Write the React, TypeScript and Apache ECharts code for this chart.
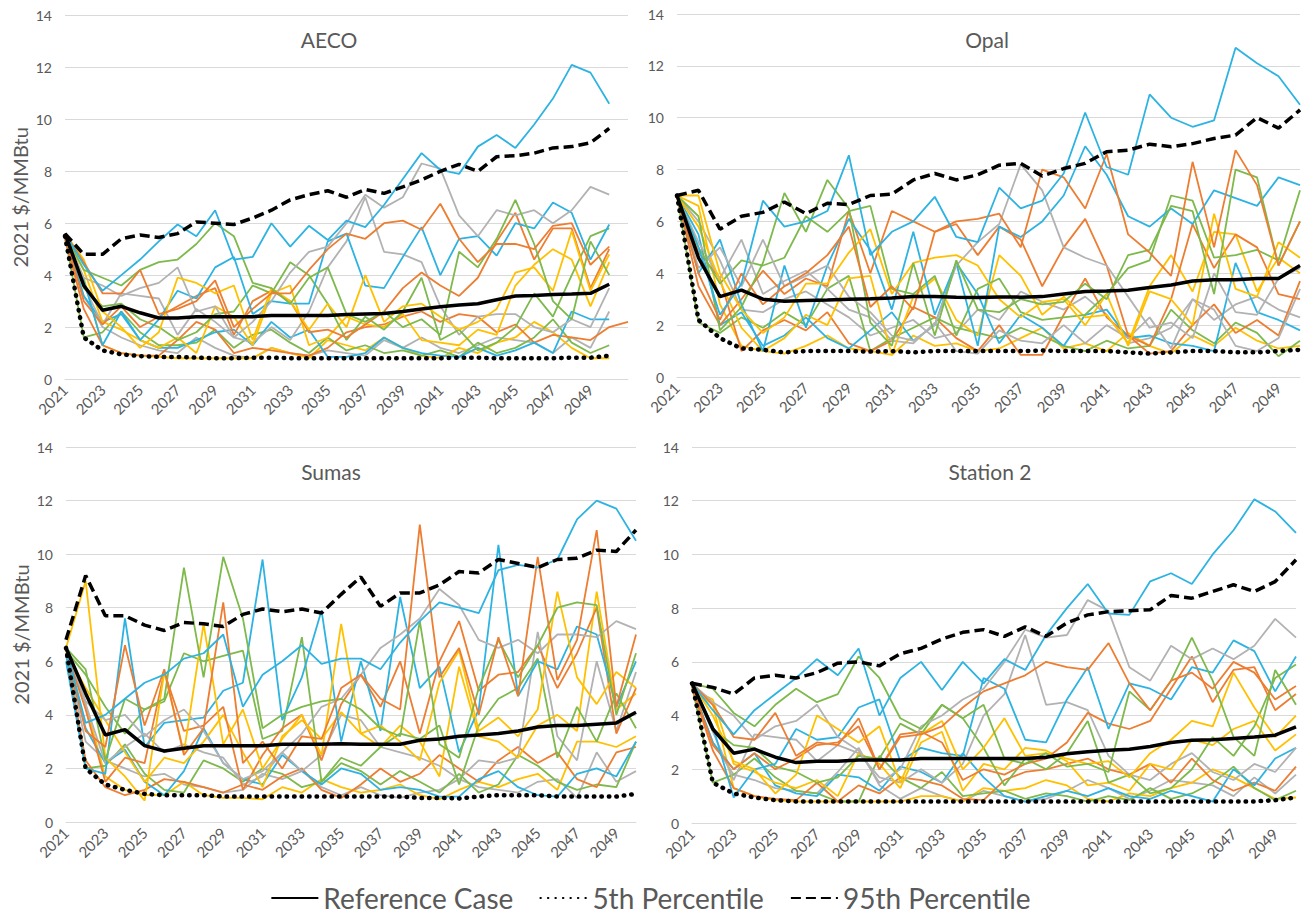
import React, { useEffect, useRef } from "react";
import * as echarts from "echarts";

// ---------- categories / tick labels ----------
const years = [
  "2021", "2022", "2023", "2024", "2025", "2026", "2027", "2028", "2029", "2030",
  "2031", "2032", "2033", "2034", "2035", "2036", "2037", "2038", "2039", "2040",
  "2041", "2042", "2043", "2044", "2045", "2046", "2047", "2048", "2049", "2050", "2051",
];
const panelTitles = ["AECO", "Opal", "Sumas", "Station 2"];
const legendNames = ["Reference Case", "5th Percentile", "95th Percentile"];

// ---------- AECO ----------
const aecoRef = [5.6,3.6,2.65,2.8,2.55,2.35,2.35,2.4,2.4,2.4,2.4,2.45,2.45,2.45,2.45,2.48,2.5,2.52,2.6,2.7,2.78,2.85,2.9,3.05,3.2,3.22,3.25,3.27,3.3,3.65];
const aecoP5 = [5.5,1.6,1.1,0.95,0.88,0.85,0.85,0.82,0.8,0.8,0.82,0.82,0.8,0.8,0.8,0.8,0.8,0.8,0.8,0.8,0.8,0.82,0.82,0.8,0.8,0.8,0.8,0.82,0.82,0.9];
const aecoP95 = [5.6,4.8,4.8,5.4,5.55,5.45,5.6,6.05,6.0,5.95,6.2,6.5,6.9,7.1,7.25,7.0,7.3,7.15,7.4,7.67,8.0,8.27,8.0,8.56,8.6,8.7,8.9,8.95,9.1,9.65];
const aecoCyan1 = [5.6,4.4,3.4,4.0,4.6,5.3,5.95,5.5,6.5,4.6,4.7,6.0,5.1,5.9,5.35,6.1,5.85,6.7,7.7,8.7,8.05,7.9,8.95,9.4,8.9,9.8,10.8,12.1,11.8,10.6];
const aecoCyan2 = [5.6,3.8,1.3,2.6,1.5,2.3,3.4,3.1,4.3,4.7,2.5,3.0,2.9,2.9,5.3,5.6,3.6,3.5,4.7,5.85,4.0,5.4,5.5,4.75,6.0,5.8,6.8,6.4,4.6,5.95];
const aecoCyan3 = [5.5,3.2,2.2,2.5,1.5,1.2,1.2,1.5,1.8,1.9,1.3,2.2,1.6,1.9,0.85,0.85,1.0,1.6,1.2,1.0,0.9,0.85,1.2,0.9,1.1,1.4,1.0,2.6,2.3,2.3];
const aecoOrange1 = [5.6,4.5,3.3,3.3,4.2,2.5,2.7,3.0,3.8,2.0,2.7,3.3,3.3,4.2,5.0,5.6,5.4,6.0,6.1,5.75,6.75,5.4,4.5,5.2,5.2,5.0,5.9,6.0,4.4,5.1];
const aecoOrange2 = [5.5,3.0,2.1,2.8,2.0,2.4,2.8,3.2,3.5,1.7,3.0,3.4,3.0,1.8,1.9,1.6,2.1,2.6,3.5,4.1,3.6,3.2,3.9,5.3,6.4,4.6,5.8,5.8,3.5,5.0];
const aecoOrange3 = [5.4,2.7,1.3,1.0,0.9,0.9,1.5,2.2,1.9,1.0,1.2,1.1,1.0,0.9,1.2,1.8,2.0,2.1,2.4,2.6,2.2,2.5,2.4,1.8,2.1,1.4,1.7,1.6,1.5,2.0,2.2];
const aecoGray1 = [5.6,3.9,3.6,3.2,3.5,3.7,4.3,2.6,2.8,1.6,2.2,3.0,4.1,4.9,5.1,6.0,7.1,6.6,7.0,8.3,8.1,6.3,5.5,6.5,6.3,6.5,6.0,6.5,7.4,7.1];
const aecoGray2 = [5.5,3.6,2.1,3.3,3.2,3.1,1.7,2.7,2.2,1.6,1.4,2.0,1.5,2.6,4.3,5.3,7.0,4.9,4.8,4.5,2.8,1.7,2.4,2.5,2.5,2.0,1.8,2.3,2.0,3.5];
const aecoGray3 = [5.5,3.2,2.0,1.6,1.3,1.1,1.0,1.6,1.2,0.9,0.8,1.2,1.0,0.9,1.1,1.0,0.9,1.5,1.2,1.6,1.2,1.0,1.3,1.6,1.5,1.4,1.0,1.6,1.2,2.6];
const aecoYellow1 = [5.6,4.6,2.6,2.0,1.2,1.8,3.9,3.7,3.3,3.6,1.5,3.5,3.0,1.9,2.9,2.0,4.0,2.2,2.8,2.9,2.4,1.9,2.2,2.7,4.1,4.3,3.4,5.7,3.4,4.8];
const aecoYellow2 = [5.5,4.2,2.2,1.9,1.5,1.2,1.6,1.0,2.8,2.4,1.3,3.3,3.6,1.3,1.6,2.4,2.1,2.0,2.5,1.5,1.4,1.3,1.9,1.7,3.6,4.4,5.0,4.6,2.8,4.5];
const aecoYellow3 = [5.4,3.9,1.3,1.0,0.9,0.85,0.8,0.8,0.8,0.8,0.8,1.2,1.0,0.8,1.5,1.3,1.1,1.6,1.2,0.9,0.8,1.2,1.0,1.4,1.6,2.2,1.8,1.2,0.8,0.8];
const aecoGreen1 = [5.6,4.2,3.9,3.6,4.2,4.5,4.6,5.2,6.0,5.5,3.7,3.5,2.9,3.9,4.3,2.5,2.2,2.6,2.0,2.3,1.7,4.9,4.3,5.4,6.9,5.2,3.0,2.3,5.3,4.0];
const aecoGreen2 = [5.6,3.5,2.8,2.9,2.3,2.0,1.5,1.8,2.5,2.6,3.6,3.3,4.5,4.0,2.9,1.5,2.4,1.9,2.6,3.9,1.5,1.9,1.1,1.4,2.0,3.3,2.4,4.0,5.5,5.8];
const aecoGreen3 = [5.5,1.6,1.8,2.6,1.8,1.3,1.3,1.4,1.9,1.2,1.7,1.9,1.4,1.0,1.6,1.1,1.3,1.0,1.1,0.9,1.1,0.85,1.4,1.0,1.2,1.6,2.3,1.4,1.0,1.3];

// ---------- Opal ----------
const opalRef = [7.0,4.6,3.1,3.35,3.0,2.92,2.95,2.97,3.0,3.02,3.05,3.1,3.1,3.08,3.07,3.09,3.08,3.1,3.2,3.3,3.32,3.35,3.45,3.55,3.7,3.75,3.75,3.8,3.8,4.3];
const opalP5 = [7.0,2.2,1.5,1.1,1.05,0.95,1.0,1.0,1.0,0.98,1.0,0.95,1.0,1.0,1.0,1.0,1.0,1.02,1.0,1.0,1.0,0.95,0.9,0.95,1.0,1.0,0.95,0.95,1.0,1.05];
const opalP95 = [7.0,7.2,5.7,6.2,6.35,6.75,6.3,6.7,6.65,7.0,7.05,7.6,7.85,7.6,7.8,8.17,8.24,7.75,8.04,8.24,8.69,8.75,8.98,8.88,9.0,9.2,9.33,10.0,9.6,10.3];
const opalCyan1 = [7.0,5.0,2.4,3.6,6.8,5.8,6.0,6.4,8.55,4.7,5.6,6.0,6.95,5.4,5.2,7.3,6.5,6.8,7.85,10.2,8.1,7.8,10.9,10.0,9.65,9.9,12.7,12.1,11.6,10.5];
const opalCyan2 = [7.0,4.0,5.3,2.8,1.0,4.3,1.9,4.3,6.1,4.9,2.6,5.6,2.4,4.4,1.2,5.8,5.4,6.0,7.0,8.9,7.8,6.2,5.8,6.5,5.9,7.2,6.9,6.6,7.7,7.4];
const opalCyan3 = [7.0,5.5,2.0,2.5,1.2,1.6,2.3,1.5,1.1,1.8,2.5,1.4,2.0,4.4,3.2,1.3,2.4,1.9,1.2,2.4,2.6,1.5,1.6,1.3,1.2,1.0,4.4,2.5,2.2,1.8];
const opalOrange1 = [7.0,4.0,2.2,4.0,2.8,3.5,4.0,4.7,5.8,2.7,3.5,2.6,5.6,6.0,6.1,6.3,5.0,8.0,7.7,6.5,8.6,5.5,4.8,3.9,8.3,5.0,8.75,7.4,4.3,6.0];
const opalOrange2 = [7.0,3.5,2.0,3.0,4.1,3.2,3.8,3.5,6.4,4.0,6.4,6.0,5.6,5.9,4.7,5.8,5.3,3.5,5.0,6.1,4.3,1.6,1.2,3.0,5.9,4.2,5.5,5.0,3.2,3.0];
const opalOrange3 = [7.0,4.8,3.8,1.0,1.8,2.2,1.8,2.5,1.3,1.0,1.4,2.7,2.3,1.5,1.0,2.0,0.85,0.85,2.4,3.8,2.3,1.6,0.9,1.0,2.0,2.8,1.7,2.2,1.6,3.7];
const opalGray1 = [7.0,4.2,5.0,3.5,5.3,3.5,3.9,4.3,3.1,2.5,1.6,1.4,2.0,4.3,5.2,5.9,8.2,7.2,5.0,4.6,4.3,3.1,1.9,2.1,1.5,4.0,2.5,2.4,3.8,4.2];
const opalGray2 = [7.0,5.2,3.8,5.3,3.2,3.7,4.1,3.4,2.6,2.3,1.4,1.3,2.1,1.0,0.9,1.8,1.4,1.3,2.0,1.3,2.0,1.5,2.3,1.1,3.0,2.6,1.2,1.0,1.5,3.4];
const opalGray3 = [7.0,6.0,4.5,2.6,2.5,3.0,3.3,2.8,2.3,1.6,1.9,2.2,1.5,1.7,2.6,2.2,3.3,2.9,2.6,3.1,2.4,1.3,1.5,1.9,3.0,2.2,2.8,3.1,2.6,2.3];
const opalYellow1 = [7.0,7.0,4.0,2.6,1.7,2.3,3.6,3.6,4.8,5.7,3.2,4.4,4.6,4.7,4.3,3.0,2.3,2.9,3.0,2.0,3.2,1.2,3.3,3.0,2.0,6.3,3.4,3.1,5.2,4.6];
const opalYellow2 = [7.0,5.8,3.7,1.9,1.0,1.5,2.4,2.0,3.8,3.9,0.85,3.1,3.8,2.2,1.6,4.7,3.9,2.4,3.1,2.3,2.4,1.3,3.5,4.7,3.3,5.6,5.5,3.3,4.6,4.0];
const opalYellow3 = [7.0,6.6,2.8,1.2,1.0,0.9,1.2,1.6,1.1,1.0,0.85,1.6,1.2,1.3,1.0,1.1,1.5,1.9,1.1,1.3,1.0,1.7,1.2,0.9,1.6,1.2,1.9,1.4,1.1,1.2];
const opalGreen1 = [7.0,6.2,1.8,2.7,4.4,7.1,5.6,7.6,6.5,2.1,1.2,4.4,1.6,4.5,2.6,2.5,3.0,2.8,2.9,3.6,3.0,4.7,4.9,6.6,6.4,3.2,8.0,7.7,4.3,6.0];
const opalGreen2 = [7.0,5.0,3.6,4.5,4.3,4.6,6.2,5.6,6.4,6.6,3.4,3.2,3.9,1.6,3.4,3.8,2.5,2.2,2.3,2.4,3.2,4.2,4.5,7.0,6.8,4.6,4.7,4.9,4.5,7.2];
const opalGreen3 = [7.0,2.1,1.7,2.3,1.9,2.5,2.0,3.4,3.9,1.0,1.5,1.9,2.3,1.9,1.7,1.5,1.9,1.6,1.2,1.0,1.4,1.1,1.2,2.6,1.8,1.3,2.1,1.7,0.8,1.4];

// ---------- Sumas ----------
const sumasRef = [6.5,4.8,3.25,3.45,2.85,2.65,2.75,2.85,2.85,2.85,2.85,2.9,2.9,2.9,2.92,2.9,2.9,2.9,3.05,3.1,3.2,3.25,3.3,3.4,3.55,3.6,3.6,3.65,3.7,4.1];
const sumasP5 = [6.5,2.0,1.4,1.2,1.05,1.0,1.0,1.0,0.95,0.95,0.95,0.95,0.95,0.95,0.95,0.95,0.95,0.95,0.9,0.9,0.88,0.95,1.0,1.0,1.0,0.95,0.95,0.95,0.95,1.05];
const sumasP95 = [6.8,9.2,7.7,7.7,7.35,7.15,7.45,7.4,7.3,7.75,7.95,7.85,7.95,7.8,8.5,9.15,8.05,8.55,8.55,8.85,9.35,9.3,9.8,9.65,9.5,9.8,9.85,10.15,10.1,10.9];
const sumasCyan1 = [6.5,3.7,4.0,4.6,5.2,5.5,6.1,6.3,7.0,4.3,5.5,6.0,6.6,5.9,6.1,6.1,5.7,6.7,7.5,8.2,8.0,7.8,9.4,9.6,9.5,9.8,11.3,12.0,11.7,10.5];
const sumasCyan2 = [6.0,2.0,1.8,7.6,2.8,3.7,3.8,3.9,4.9,5.2,9.8,3.8,5.4,7.9,3.0,6.0,3.4,8.4,5.0,5.8,2.6,4.2,10.35,4.7,6.0,5.7,7.3,7.0,4.3,6.0];
const sumasCyan3 = [6.2,3.5,2.2,2.7,1.5,1.0,1.9,3.5,2.2,1.6,1.4,2.5,1.9,1.4,2.0,1.8,1.2,1.3,1.2,0.95,0.95,1.6,1.9,1.3,1.0,0.95,1.8,2.0,1.7,3.0];
const sumasOrange1 = [6.5,3.4,2.8,6.6,3.6,5.7,2.5,3.5,8.2,2.2,3.0,2.0,3.2,3.1,5.0,5.5,4.6,4.2,11.1,5.4,6.5,4.0,6.9,4.7,9.9,5.3,6.8,10.9,4.3,7.0];
const sumasOrange2 = [6.4,4.2,1.5,2.4,2.2,5.6,3.4,3.6,4.3,1.2,2.5,3.5,4.0,2.3,4.4,5.5,4.3,6.0,3.3,6.0,7.5,4.9,5.5,5.6,6.6,5.0,6.3,8.0,3.3,5.0];
const sumasOrange3 = [6.3,2.3,1.3,1.0,1.2,1.6,1.5,1.3,1.1,1.4,1.2,1.7,2.0,1.2,0.9,1.4,2.0,1.5,1.8,2.5,2.0,1.5,2.3,2.8,2.2,2.6,1.6,1.3,2.6,2.8];
const sumasGray1 = [6.6,4.5,3.8,4.0,3.2,3.8,4.2,3.4,2.2,1.6,1.9,2.6,3.3,4.3,4.6,5.5,6.5,7.0,7.6,8.7,8.1,6.8,6.5,6.8,6.3,7.0,7.0,6.9,7.5,7.2];
const sumasGray2 = [6.5,4.4,2.2,2.8,3.3,2.6,2.9,2.6,2.4,1.4,1.7,2.6,1.9,2.5,4.0,3.8,2.8,2.6,2.4,2.1,1.6,2.3,2.2,2.4,7.1,3.2,2.3,6.0,3.4,5.6];
const sumasGray3 = [6.3,3.0,2.3,2.0,1.7,1.8,1.4,1.3,1.1,1.2,1.8,1.6,1.9,1.3,1.0,1.3,1.0,0.9,1.1,1.2,1.6,1.3,1.2,1.1,1.5,1.6,0.9,2.6,1.5,1.9];
const sumasYellow1 = [6.5,9.0,2.4,1.7,0.8,5.6,2.6,7.4,2.9,4.2,2.0,3.1,4.0,2.5,7.4,3.3,3.6,3.0,2.3,5.2,6.4,3.4,3.9,3.2,4.2,8.6,5.4,4.4,5.6,5.0];
const sumasYellow2 = [6.4,5.0,3.8,2.6,1.5,2.4,2.2,3.0,4.0,2.6,1.3,3.2,3.8,3.1,4.1,3.3,2.8,3.6,3.0,1.7,5.8,3.2,3.0,2.4,3.6,4.0,3.4,8.6,4.2,4.8];
const sumasYellow3 = [6.2,4.4,1.7,1.2,1.0,1.0,1.5,1.0,0.9,0.9,0.85,1.3,1.1,1.6,1.3,1.1,1.2,1.4,1.0,0.85,1.2,1.5,1.3,1.6,1.8,1.2,3.0,3.0,2.8,3.2];
const sumasGreen1 = [6.5,5.7,2.3,4.6,4.2,4.6,9.5,5.4,9.9,7.6,3.5,4.0,4.3,4.5,4.6,4.2,3.5,3.2,7.5,2.9,2.4,5.0,6.8,5.4,6.6,8.0,8.2,8.1,4.0,6.3];
const sumasGreen2 = [6.4,5.5,4.3,3.3,4.2,4.5,6.3,6.0,6.2,6.4,3.1,3.4,6.9,1.5,2.4,2.1,2.8,3.3,3.1,3.6,1.4,3.6,4.6,5.0,6.1,2.4,4.3,3.0,4.8,3.5];
const sumasGreen3 = [6.3,2.0,2.1,2.9,1.8,1.2,1.1,2.3,2.0,1.5,2.0,1.8,1.3,1.5,2.2,1.9,1.4,1.9,1.5,1.1,1.8,1.1,1.4,2.5,2.1,1.5,1.2,1.4,1.3,3.0];

// ---------- Station 2 ----------
const st2Ref = [5.2,3.5,2.6,2.75,2.45,2.25,2.3,2.3,2.35,2.35,2.35,2.4,2.4,2.4,2.4,2.4,2.4,2.45,2.58,2.65,2.71,2.75,2.85,3.0,3.08,3.1,3.15,3.2,3.27,3.58];
const st2P5 = [5.2,1.5,1.1,0.95,0.85,0.8,0.8,0.8,0.8,0.8,0.8,0.8,0.8,0.8,0.8,0.8,0.8,0.8,0.8,0.8,0.8,0.8,0.8,0.8,0.8,0.8,0.8,0.8,0.85,0.95];
const st2P95 = [5.2,5.05,4.8,5.4,5.5,5.4,5.6,5.95,6.0,5.85,6.3,6.5,6.85,7.1,7.2,6.95,7.3,6.95,7.45,7.75,7.87,7.9,7.94,8.47,8.37,8.62,8.87,8.62,8.99,9.8];
const st2Cyan1 = [5.2,4.2,3.3,4.2,4.8,5.4,6.1,5.5,6.5,4.0,5.4,6.0,4.95,6.0,5.2,6.1,5.7,7.0,8.0,8.9,7.8,7.75,9.0,9.3,8.9,10.0,10.9,12.05,11.6,10.8];
const st2Cyan2 = [5.2,3.6,0.95,2.0,2.2,3.5,3.1,3.2,4.3,4.6,2.3,2.8,2.6,2.5,5.4,5.0,3.1,3.0,4.6,5.8,3.5,5.2,5.0,4.6,5.8,5.6,6.8,6.4,4.9,6.2];
const st2Cyan3 = [5.1,3.0,2.0,2.6,1.4,1.1,1.0,1.8,1.7,1.2,2.1,1.9,1.5,2.6,1.7,1.0,0.8,1.0,1.2,1.0,1.3,1.0,0.9,1.2,1.0,0.8,2.0,1.4,2.4,2.8];
const st2Orange1 = [5.2,4.4,3.2,3.1,4.1,2.5,3.0,2.9,3.9,2.0,3.2,3.3,3.6,4.3,4.9,5.2,5.5,6.0,5.8,5.7,6.7,5.2,4.2,5.3,5.6,5.0,6.0,5.6,4.6,5.1];
const st2Orange2 = [5.1,2.9,2.0,2.6,2.0,2.4,2.9,3.0,3.6,2.0,3.3,3.4,3.0,1.6,2.0,1.8,2.2,2.4,3.0,4.1,3.7,3.5,3.8,5.0,6.2,4.5,5.7,5.8,4.2,4.8];
const st2Orange3 = [5.0,2.7,1.3,1.0,0.9,0.85,1.5,0.8,1.4,1.1,1.7,1.6,1.4,0.9,0.85,1.6,1.9,2.0,2.2,2.4,2.0,1.8,2.2,1.5,2.4,1.6,1.2,1.5,1.2,2.1];
const st2Gray1 = [5.2,4.5,4.0,3.1,3.6,3.8,4.4,3.2,2.7,1.5,2.0,3.6,4.0,4.6,5.0,6.0,7.2,6.9,7.0,8.3,7.9,5.8,5.3,6.6,6.1,6.5,6.1,6.6,7.6,6.9];
const st2Gray2 = [5.1,3.4,1.6,3.3,3.2,3.1,2.3,2.9,2.6,1.7,1.5,2.0,1.5,2.2,4.0,4.8,7.0,4.4,4.5,4.2,2.5,1.8,1.6,2.2,2.6,1.9,1.6,2.2,1.9,2.8];
const st2Gray3 = [5.0,3.0,1.8,1.6,1.3,1.2,1.1,1.9,2.8,1.4,0.9,1.3,1.0,0.8,1.2,1.0,0.8,0.9,1.2,1.6,1.3,0.9,1.2,1.6,1.5,1.4,1.0,1.7,1.1,1.8];
const st2Yellow1 = [5.2,4.0,2.3,2.0,1.1,1.8,4.0,3.5,3.0,3.6,1.5,3.3,3.8,2.0,2.8,3.9,2.5,2.6,2.4,2.2,2.3,1.7,2.6,3.1,3.8,3.6,5.6,4.3,3.2,4.0];
const st2Yellow2 = [5.0,4.6,2.2,1.9,1.5,1.3,1.6,1.0,2.6,2.2,1.3,3.0,3.4,1.2,2.2,2.0,2.8,2.7,2.3,1.4,1.5,1.2,2.2,2.0,3.1,2.9,3.5,3.8,2.7,3.3];
const st2Yellow3 = [5.0,4.4,1.3,1.0,0.85,0.8,0.8,0.8,0.8,0.8,0.8,1.0,1.0,0.8,1.3,1.2,1.3,1.6,1.4,0.9,0.8,1.1,1.0,1.3,1.5,2.0,1.7,1.3,0.9,0.95];
const st2Green1 = [5.2,5.0,4.1,3.6,4.4,5.0,4.5,4.8,6.2,5.4,3.9,3.5,4.4,3.9,4.4,2.4,2.2,2.6,2.1,2.2,1.9,4.9,4.2,5.3,6.9,5.3,3.2,2.5,5.7,4.4];
const st2Green2 = [5.2,3.5,2.9,2.8,2.1,1.9,1.5,1.7,2.5,2.4,3.7,3.3,4.4,3.9,2.8,1.4,2.4,2.0,2.6,3.8,1.5,1.8,1.1,1.3,2.0,3.2,2.5,3.6,5.4,5.9];
const st2Green3 = [5.1,1.5,1.8,2.4,1.7,1.2,1.1,0.8,0.8,2.5,1.7,1.3,1.9,1.0,1.1,1.2,0.9,1.1,1.0,0.8,1.0,0.85,1.3,0.9,1.1,1.5,2.1,1.3,0.85,1.2];

// ---------- styles ----------
const CYAN = "#2DB3E2";
const ORANGE = "#ED7D31";
const GRAY = "#B2B2B2";
const YELLOW = "#FFC000";
const GREEN = "#7DB94B";
const TEXT = "#595959";
const GRID = "#D9D9D9";
const FONT = "Lato, 'Open Sans', 'DejaVu Sans', sans-serif";

type Panel = {
  title: string;
  left: number; top: number; width: number; height: number;
  nCat: number;
  titleX: number; titleY: number;
  yName: boolean;
  ref: number[]; p5: number[]; p95: number[];
  lines: [number[], string][];
};

const panels: Panel[] = [
  {
    title: panelTitles[0], left: 65, top: 15.5, width: 563, height: 363.5, nCat: 31,
    titleX: 324, titleY: 24, yName: true,
    ref: aecoRef, p5: aecoP5, p95: aecoP95,
    lines: [
      [aecoGray3, GRAY], [aecoYellow3, YELLOW], [aecoGreen3, GREEN], [aecoOrange3, ORANGE], [aecoCyan3, CYAN],
      [aecoGray2, GRAY], [aecoYellow2, YELLOW], [aecoGreen2, GREEN], [aecoOrange2, ORANGE], [aecoCyan2, CYAN],
      [aecoGray1, GRAY], [aecoYellow1, YELLOW], [aecoGreen1, GREEN], [aecoOrange1, ORANGE], [aecoCyan1, CYAN],
    ],
  },
  {
    title: panelTitles[1], left: 677, top: 14, width: 623, height: 363, nCat: 30,
    titleX: 982, titleY: 24, yName: false,
    ref: opalRef, p5: opalP5, p95: opalP95,
    lines: [
      [opalGray3, GRAY], [opalYellow3, YELLOW], [opalGreen3, GREEN], [opalOrange3, ORANGE], [opalCyan3, CYAN],
      [opalGray2, GRAY], [opalYellow2, YELLOW], [opalGreen2, GREEN], [opalOrange2, ORANGE], [opalCyan2, CYAN],
      [opalGray1, GRAY], [opalYellow1, YELLOW], [opalGreen1, GREEN], [opalOrange1, ORANGE], [opalCyan1, CYAN],
    ],
  },
  {
    title: panelTitles[2], left: 66, top: 447, width: 570, height: 375, nCat: 30,
    titleX: 326, titleY: 456, yName: true,
    ref: sumasRef, p5: sumasP5, p95: sumasP95,
    lines: [
      [sumasGray3, GRAY], [sumasYellow3, YELLOW], [sumasGreen3, GREEN], [sumasOrange3, ORANGE], [sumasCyan3, CYAN],
      [sumasGray2, GRAY], [sumasYellow2, YELLOW], [sumasGreen2, GREEN], [sumasOrange2, ORANGE], [sumasCyan2, CYAN],
      [sumasGray1, GRAY], [sumasYellow1, YELLOW], [sumasGreen1, GREEN], [sumasOrange1, ORANGE], [sumasCyan1, CYAN],
    ],
  },
  {
    title: panelTitles[3], left: 692, top: 447, width: 604, height: 376, nCat: 30,
    titleX: 985, titleY: 456, yName: false,
    ref: st2Ref, p5: st2P5, p95: st2P95,
    lines: [
      [st2Gray3, GRAY], [st2Yellow3, YELLOW], [st2Green3, GREEN], [st2Orange3, ORANGE], [st2Cyan3, CYAN],
      [st2Gray2, GRAY], [st2Yellow2, YELLOW], [st2Green2, GREEN], [st2Orange2, ORANGE], [st2Cyan2, CYAN],
      [st2Gray1, GRAY], [st2Yellow1, YELLOW], [st2Green1, GREEN], [st2Orange1, ORANGE], [st2Cyan1, CYAN],
    ],
  },
];

function buildOption() {
  const grid: any[] = [];
  const xAxis: any[] = [];
  const yAxis: any[] = [];
  const series: any[] = [];
  const title: any[] = [];

  panels.forEach((p, i) => {
    grid.push({ left: p.left, top: p.top, width: p.width, height: p.height, containLabel: false, outerBoundsMode: "none" });
    title.push({
      text: p.title, left: p.titleX, top: p.titleY, textAlign: "center",
      textStyle: { fontFamily: FONT, fontSize: 21, fontWeight: "normal", color: TEXT },
    });
    xAxis.push({
      type: "category", gridIndex: i, boundaryGap: false,
      data: years.slice(0, p.nCat),
      axisLine: { show: true, lineStyle: { color: GRID, width: 1 } },
      axisTick: { show: false },
      axisLabel: {
        rotate: 45, margin: 8, color: TEXT, fontFamily: FONT, fontSize: 15,
        interval: (idx: number) => idx % 2 === 0 && idx < 30,
      },
      splitLine: { show: false },
    });
    yAxis.push({
      type: "value", gridIndex: i, min: 0, max: 14, interval: 2,
      axisLine: { show: false }, axisTick: { show: false },
      axisLabel: { color: TEXT, fontFamily: FONT, fontSize: 14, margin: 13 },
      splitLine: { show: true, lineStyle: { color: GRID, width: 1 } },
      name: p.yName ? "2021 $/MMBtu" : "",
      nameLocation: "middle", nameGap: 35, nameRotate: 90,
      nameTextStyle: { color: TEXT, fontFamily: FONT, fontSize: 20 },
    });
    p.lines.forEach(([d, c]) => {
      series.push({
        type: "line", xAxisIndex: i, yAxisIndex: i, data: d, symbol: "none",
        silent: true, lineStyle: { color: c, width: 1.8 }, itemStyle: { color: c }, z: 2,
      });
    });
    series.push({
      type: "line", name: legendNames[1], xAxisIndex: i, yAxisIndex: i, data: p.p5, symbol: "none",
      lineStyle: { color: "#000", width: 4.5, type: [0.5, 7], cap: "round" }, itemStyle: { color: "#000" }, z: 3,
    });
    series.push({
      type: "line", name: legendNames[2], xAxisIndex: i, yAxisIndex: i, data: p.p95, symbol: "none",
      lineStyle: { color: "#000", width: 3.5, type: [10, 5] }, itemStyle: { color: "#000" }, z: 3,
    });
    series.push({
      type: "line", name: legendNames[0], xAxisIndex: i, yAxisIndex: i, data: p.ref, symbol: "none",
      lineStyle: { color: "#000", width: 3.5 }, itemStyle: { color: "#000" }, z: 4,
    });
  });

  return {
    animation: false,
    backgroundColor: "#fff",
    textStyle: { fontFamily: FONT },
    title,
    grid,
    xAxis,
    yAxis,
    series,
    legend: {
      data: legendNames,
      left: "center", top: 879,
      itemWidth: 47, itemHeight: 12, itemGap: 26,
      itemStyle: { color: "rgba(0,0,0,0)", borderWidth: 0, opacity: 0 },
      textStyle: { color: TEXT, fontFamily: FONT, fontSize: 28 },
      selectedMode: false,
    },
  };
}

export default function App() {
  const ref = useRef<HTMLDivElement>(null);
  useEffect(() => {
    if (!ref.current) return;
    const chart = echarts.init(ref.current, undefined, { renderer: "svg" });
    chart.setOption(buildOption() as any);
    return () => chart.dispose();
  }, []);
  return (
    <div
      ref={ref}
      style={{ position: "absolute", left: 0, top: 0, width: 1301, height: 915, background: "#fff" }}
    />
  );
}
